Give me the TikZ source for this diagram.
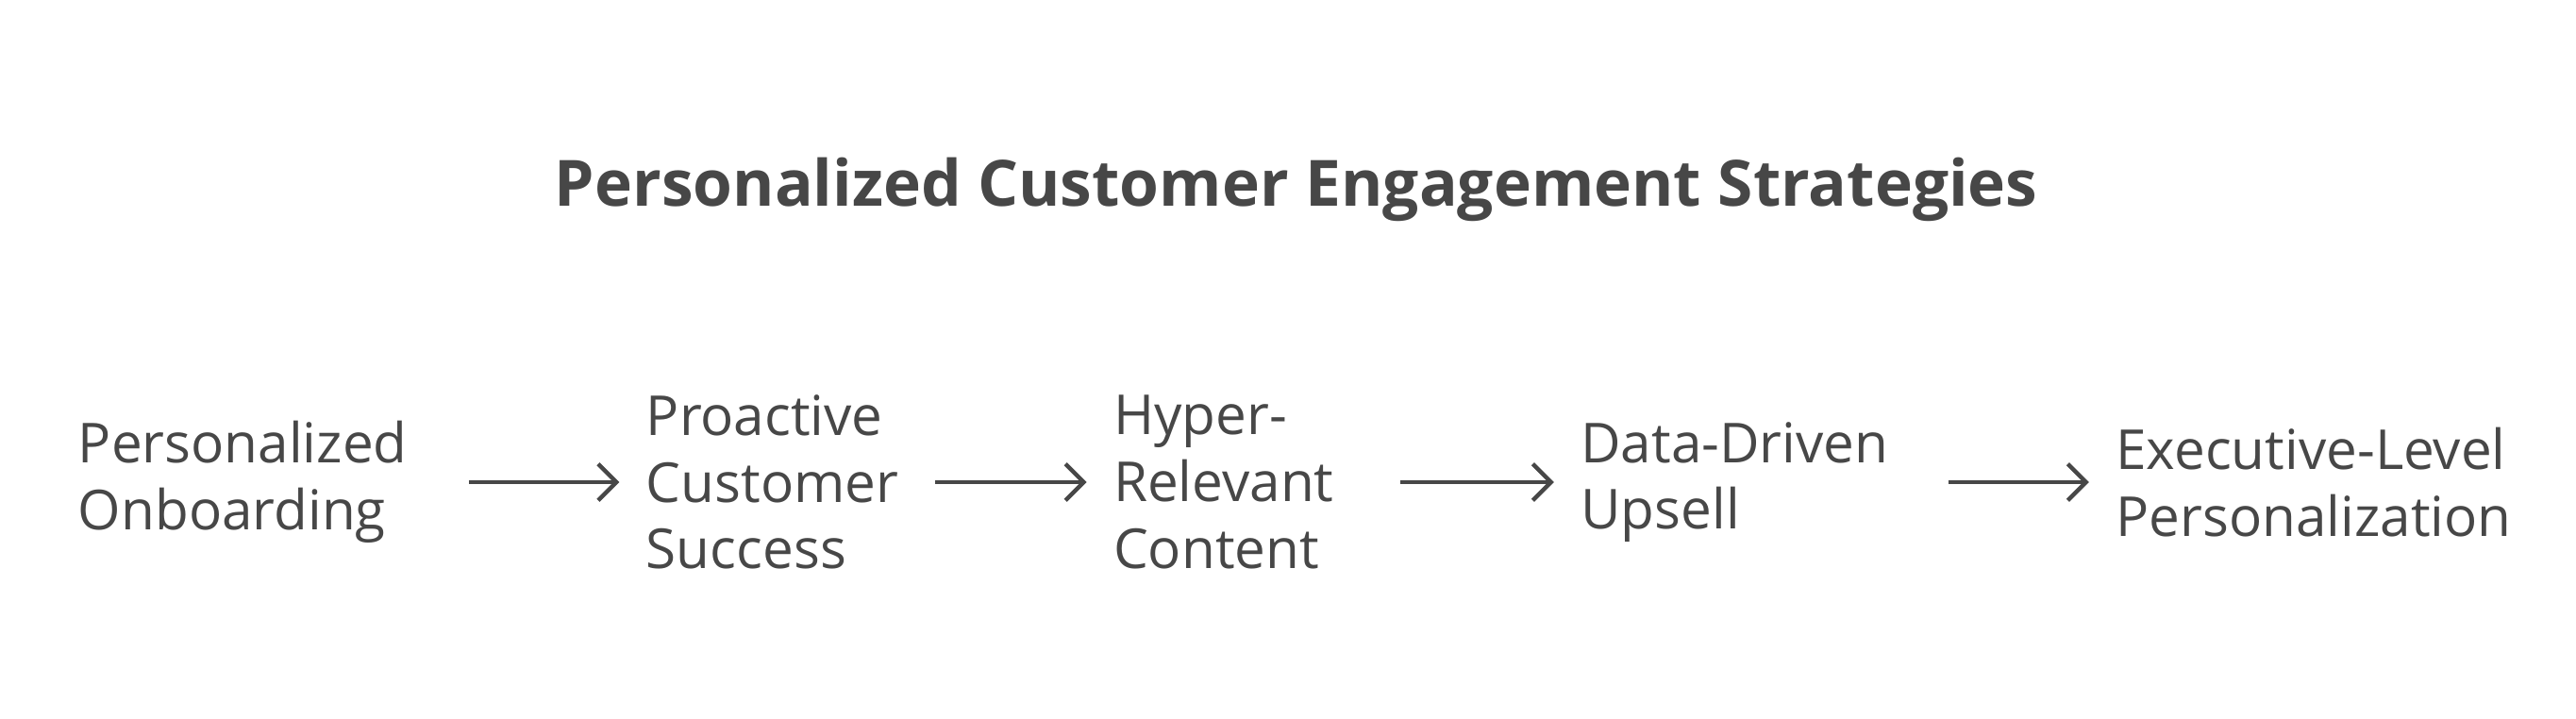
\documentclass[tikz,border=0pt]{standalone}
\usepackage{fontspec}
\setmainfont{Open Sans}
\usetikzlibrary{arrows.meta}
\definecolor{ink}{HTML}{474747}
\tikzset{
  stage/.style={anchor=west, align=left, inner sep=0pt, text=ink, font=\fontsize{19}{23}\selectfont},
  flow/.style={draw=ink, line width=0.05cm, -{Straight Barb[length=0.22cm,width=0.44cm]}, shorten >=0.32cm}
}
\begin{document}
\begin{tikzpicture}[x=0.02cm,y=-0.02cm]
  \useasboundingbox (0,0) rectangle (1560,435);
  \node[text=ink, font=\bfseries\fontsize{22}{26}\selectfont] (title) at (785,115) {Personalized Customer Engagement Strategies};

  \node[stage] (po) at (47,292) {Personalized\\Onboarding};
  \node[stage] (pcs) at (391,292) {Proactive\\Customer\\Success};
  \node[stage] (hrc) at (674,292) {Hyper-\\Relevant\\Content};
  \node[stage] (ddu) at (957,292) {Data-Driven\\Upsell};
  \node[stage] (elp) at (1281,292) {Executive-Level\\Personalization};

  \draw[flow, shorten <=0.74cm] (po.east) -- (pcs.west);
  \draw[flow, shorten <=0.44cm] (pcs.east) -- (hrc.west);
  \draw[flow, shorten <=0.8cm] (hrc.east) -- (ddu.west);
  \draw[flow, shorten <=0.72cm] (ddu.east) -- (elp.west);
\end{tikzpicture}
\end{document}
